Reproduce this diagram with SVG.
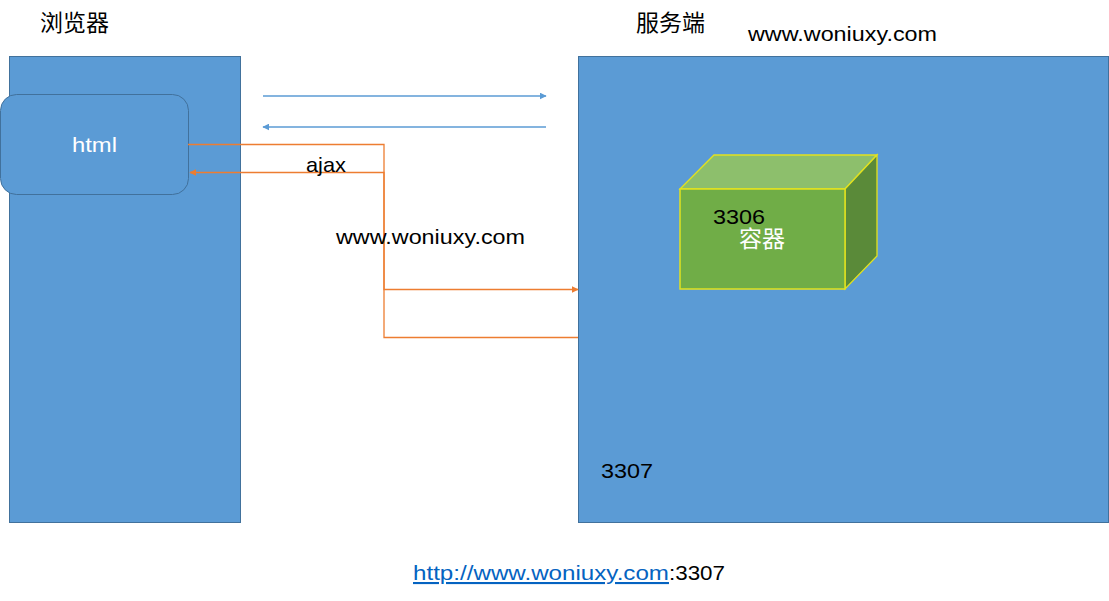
<svg xmlns="http://www.w3.org/2000/svg" width="1109" height="601" viewBox="0 0 1109 601">
<defs>
<style>
.panel{fill:#5B9BD5;stroke:#41719C;stroke-width:1}
.t{font-family:"Liberation Sans","Noto Sans CJK SC",sans-serif;font-size:21px;fill:#000}
.cn{font-family:"Noto Sans CJK SC",sans-serif;font-size:23px;fill:#000}
.w{fill:#fff}
.blue{stroke:#5B9BD5;stroke-width:1.3;fill:none}
.orange{stroke:#ED7D31;stroke-width:1.3;fill:none}
</style>
<marker id="ab" viewBox="0 0 10 10" refX="9" refY="5" markerWidth="7" markerHeight="7" markerUnits="userSpaceOnUse" orient="auto"><path d="M0,0L10,5L0,10z" fill="#5B9BD5"/></marker>
<marker id="ao" viewBox="0 0 10 10" refX="9" refY="5" markerWidth="7" markerHeight="7" markerUnits="userSpaceOnUse" orient="auto"><path d="M0,0L10,5L0,10z" fill="#ED7D31"/></marker>
</defs>
<rect width="1109" height="601" fill="#fff"/>
<g id="browser">
<rect class="panel" x="9.5" y="56.5" width="231" height="466"/>
<text class="cn" x="40" y="31">浏览器</text>
</g>
<g id="server">
<rect class="panel" x="578.5" y="56.5" width="530" height="466"/>
<text class="cn" x="636" y="31">服务端</text>
<text class="t" x="748" y="41" textLength="189" lengthAdjust="spacingAndGlyphs">www.woniuxy.com</text>
<text class="t" x="601" y="478" textLength="52" lengthAdjust="spacingAndGlyphs">3307</text>
</g>
<g id="html">
<rect class="panel" x="0.5" y="94.5" width="188" height="100" rx="16"/>
<text class="t w" x="72" y="152" textLength="45" lengthAdjust="spacingAndGlyphs">html</text>
</g>
<g id="container">
<polygon points="680,189 714,155 877,155 845,189" fill="#8DBF6C" stroke="#E2E21F" stroke-width="1.3"/>
<polygon points="845,189 877,155 877,256 845,289" fill="#5A8A39" stroke="#E2E21F" stroke-width="1.3"/>
<rect x="680" y="189" width="165" height="100" fill="#70AD47" stroke="#E2E21F" stroke-width="1.5"/>
<text class="t" x="713" y="224" textLength="52" lengthAdjust="spacingAndGlyphs">3306</text>
<text class="cn w" x="739" y="247">容器</text>
</g>
<g id="connectors">
<line class="blue" x1="263" y1="96" x2="546" y2="96" marker-end="url(#ab)"/>
<line class="blue" x1="546" y1="127" x2="263" y2="127" marker-end="url(#ab)"/>
<polyline class="orange" points="188,144.5 384,144.5 384,289.5 578,289.5" marker-end="url(#ao)"/>
<polyline class="orange" points="578,337.5 384,337.5 384,172.5 190,172.5" marker-end="url(#ao)"/>
</g>
<g id="labels">
<text class="t" x="306" y="172" textLength="40" lengthAdjust="spacingAndGlyphs">ajax</text>
<text class="t" x="336" y="244" textLength="189" lengthAdjust="spacingAndGlyphs">www.woniuxy.com</text>
<text class="t" x="413" y="580"><tspan fill="#0563C1" text-decoration="underline" textLength="256" lengthAdjust="spacingAndGlyphs">http://www.woniuxy.com</tspan><tspan x="669" textLength="56" lengthAdjust="spacingAndGlyphs">:3307</tspan></text>
</g>
</svg>
